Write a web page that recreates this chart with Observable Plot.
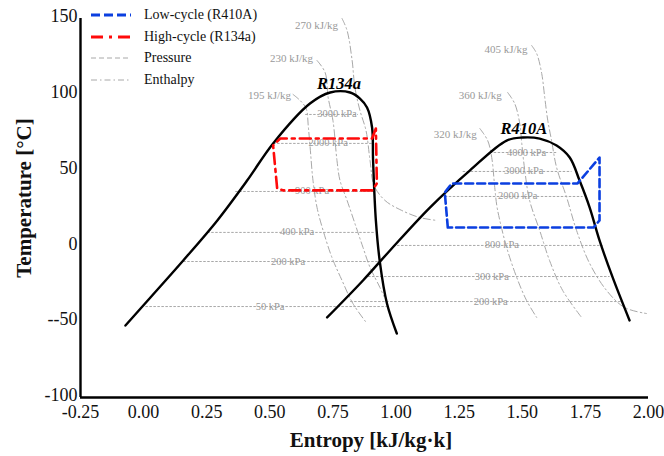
<!DOCTYPE html>
<html><head><meta charset="utf-8">
<script src="https://cdn.jsdelivr.net/npm/d3@7"></script>
<script src="https://cdn.jsdelivr.net/npm/@observablehq/plot@0.6"></script>
<style>
body{margin:0;background:#fff;}
#wrap{position:relative;width:664px;height:456px;font-family:"Liberation Serif","Times New Roman",serif;}
#chart svg, #chart svg text{font-family:"Liberation Serif","Times New Roman",serif !important;}
#legend{position:absolute;left:90px;top:4px;font-size:14px;color:#111;}
.row{display:flex;align-items:center;height:21.7px;}
.row svg{margin-right:12px;}
.atitle{position:absolute;white-space:nowrap;font-weight:bold;color:#111;line-height:1;}
#xtitle{left:371px;top:440px;font-size:21px;transform:translate(-50%,-50%);}
#ytitle{left:24px;top:198px;font-size:21px;transform:translate(-50%,-50%) rotate(-90deg);}
</style></head><body>
<div id="wrap"><div id="chart"></div><div id="legend"></div>
<div id="xtitle" class="atitle"></div><div id="ytitle" class="atitle"></div></div>
<script>
// Axis titles
const xTitle = "Entropy [kJ/kg·k]";
const yTitle = "Temperature [°C]";

// Saturation domes
const r134aDomeS = [-0.072, 0.027, 0.157, 0.292, 0.410, 0.513, 0.659, 0.739, 0.818, 0.857, 0.885, 0.905, 0.909, 0.920, 0.936, 0.964, 1.003];
const r134aDomeT = [-52.5, -34.0, -9.6, 16.8, 43.1, 67.6, 93.9, 101.2, 101.2, 97.2, 91.3, 78.1, 56.3, 16.8, -10.9, -38.0, -57.8];
const r410aDomeS = [0.727, 0.869, 0.976, 1.134, 1.292, 1.438, 1.502, 1.569, 1.636, 1.688, 1.727, 1.767, 1.806, 1.858, 1.925];
const r410aDomeT = [-47.2, -22.8, -3.0, 25.3, 49.7, 69.5, 71.5, 70.8, 66.2, 58.3, 43.1, 25.3, 3.6, -20.8, -49.2];

// Cycles
const highCycleS = [0.920, 0.905, 0.541, 0.513, 0.529, 0.553, 0.905, 0.924, 0.920];
const highCycleT = [77.4, 70.8, 70.8, 66.2, 37.9, 36.6, 36.6, 41.2, 77.4];
const lowCycleS = [1.205, 1.193, 1.221, 1.719, 1.806, 1.806, 1.782, 1.205];
const lowCycleT = [12.1, 35.2, 41.2, 41.2, 58.3, 16.8, 12.1, 12.1];

// Isobars
const pressureLabels = ["3000 kPa", "2000 kPa", "900 kPa", "400 kPa", "200 kPa", "50 kPa",
                        "4000 kPa", "3000 kPa", "2000 kPa", "800 kPa", "300 kPa", "200 kPa"];
const pressureT =      [86.7, 67.6, 35.9, 8.9, -10.3, -40.0, 61.6, 49.1, 32.6, 0.3, -20.2, -36.7];
const pressureS0 =     [0.640, 0.513, 0.363, 0.252, 0.157, 0.007, 1.371, 1.264, 1.193, 0.988, 0.889, 0.818];
const pressureS1 =     [0.849, 0.905, 0.916, 0.916, 0.936, 0.964, 1.636, 1.695, 1.739, 1.818, 1.846, 1.897];
const pressureLabelS = [0.766, 0.731, 0.667, 0.608, 0.572, 0.501, 1.517, 1.506, 1.482, 1.419, 1.379, 1.375];

// Isenthalps
const enthalpyLabels = ["195 kJ/kg", "230 kJ/kg", "270 kJ/kg", "320 kJ/kg", "360 kJ/kg", "405 kJ/kg"];
const enthalpyLabelS = [0.584, 0.671, 0.770, 1.320, 1.419, 1.521];
const enthalpyLabelT = [99.2, 123.6, 145.4, 73.5, 99.2, 129.6];
const h195S = [0.592, 0.620, 0.644, 0.652, 0.659, 0.671, 0.687, 0.711, 0.746, 0.786, 0.829, 0.885];
const h195T = [99.9, 95.9, 90.6, 79.4, 66.2, 43.1, 25.3, 10.2, -7.6, -22.8, -38.0, -51.2];
const h230S = [0.687, 0.719, 0.731, 0.750, 0.766, 0.778, 0.806, 0.837, 0.869, 0.897, 0.936, 0.952];
const h230T = [122.3, 114.4, 97.9, 82.7, 56.3, 43.1, 30.0, 14.8, -1.0, -14.2, -27.4, -33.4];
const h270S = [0.786, 0.806, 0.826, 0.837, 0.857, 0.881, 0.897, 0.913, 0.956, 1.015, 1.094, 1.162];
const h270T = [150.0, 142.1, 122.3, 104.5, 89.3, 76.1, 56.3, 39.8, 30.0, 24.0, 18.7, 16.8];
const h320S = [1.332, 1.363, 1.379, 1.391, 1.399, 1.411, 1.438, 1.478, 1.517, 1.557];
const h320T = [77.4, 69.5, 58.3, 38.5, 26.7, 16.8, -1.0, -20.8, -36.0, -47.2];
const h360S = [1.442, 1.470, 1.490, 1.498, 1.510, 1.529, 1.569, 1.608, 1.660, 1.735];
const h360T = [101.2, 93.9, 80.7, 67.5, 49.7, 30.0, 10.2, -9.6, -29.4, -47.2];
const h405S = [1.537, 1.557, 1.577, 1.589, 1.601, 1.616, 1.636, 1.676, 1.715, 1.767, 1.834, 1.905, 1.992];
const h405T = [132.2, 126.9, 113.7, 97.9, 82.7, 69.5, 51.7, 31.9, 10.2, -11.6, -29.4, -40.6, -44.6];

const refrigerantNames = ["R134a", "R410A"];
const refrigerantS = [0.774, 1.506];
const refrigerantT = [107.1, 77.4];

const xTicks = [-0.25, 0, 0.25, 0.5, 0.75, 1.0, 1.25, 1.5, 1.75, 2.0];
const yTicks = [-100, -50, 0, 50, 100, 150];

const pts = (S, T, id) => S.map((s, i) => ({s, t: T[i], id}));
const domes = [...pts(r134aDomeS, r134aDomeT, "a"), ...pts(r410aDomeS, r410aDomeT, "b")];
const enth = [pts(h195S,h195T,"195"), pts(h230S,h230T,"230"), pts(h270S,h270T,"270"),
              pts(h320S,h320T,"320"), pts(h360S,h360T,"360"), pts(h405S,h405T,"405")].flat();
const isobars = pressureLabels.map((l, i) => ({l, t: pressureT[i], s0: pressureS0[i], s1: pressureS1[i], ls: pressureLabelS[i]}));
const enthLab = enthalpyLabels.map((l, i) => ({l, s: enthalpyLabelS[i], t: enthalpyLabelT[i]}));
const refLab = refrigerantNames.map((l, i) => ({l, s: refrigerantS[i], t: refrigerantT[i]}));

const BLUE = "#0b3fe0", RED = "#ff0a0a", GRAY = "#a8a8a8", LGRAY = "#999";

const chart = Plot.plot({
  width: 664, height: 456,
  marginLeft: 80, marginRight: 16, marginTop: 18, marginBottom: 59,
  style: "font-family: 'Liberation Serif', serif; background: #fff;",
  x: {domain: [-0.25, 2.0]},
  y: {domain: [-100, 150]},
  marks: [
    Plot.link(isobars, {x1: "s0", x2: "s1", y1: "t", y2: "t", stroke: GRAY, strokeWidth: 1, strokeDasharray: "2.5,1.5"}),
    Plot.text(isobars, {x: "ls", y: "t", text: "l", fill: LGRAY, fontSize: 10.5, lineAnchor: "bottom", dy: 3}),
    Plot.line(enth, {x: "s", y: "t", z: "id", curve: "catmull-rom", stroke: GRAY, strokeWidth: 1, strokeDasharray: "7,3,1.5,3"}),
    Plot.text(enthLab, {x: "s", y: "t", text: "l", fill: LGRAY, fontSize: 11, textAnchor: "end"}),
    Plot.line(domes, {x: "s", y: "t", z: "id", curve: "catmull-rom", stroke: "#000", strokeWidth: 2.4}),
    Plot.line(pts(highCycleS, highCycleT, "h"), {x: "s", y: "t", stroke: RED, strokeWidth: 2.6, strokeDasharray: "11,5,3,5"}),
    Plot.line(pts(lowCycleS, lowCycleT, "l"), {x: "s", y: "t", stroke: BLUE, strokeWidth: 2.6, strokeDasharray: "8,4"}),
    Plot.text(refLab, {x: "s", y: "t", text: "l", fontSize: 16.5, fontWeight: "bold", fontStyle: "italic", fill: "#000"}),
    Plot.ruleX([-0.25], {stroke: "#000", strokeWidth: 2.4}),
    Plot.ruleY([-100], {stroke: "#000", strokeWidth: 2.4}),
    Plot.axisX({ticks: xTicks, tickSize: 0, tickPadding: 8, tickFormat: d => d.toFixed(2), fontSize: 18, label: null, fill: "#111"}),
    Plot.axisY({ticks: yTicks, tickSize: 0, tickPadding: 3, dy: -2, tickFormat: d => d === -50 ? "--50" : String(d), fontSize: 18, label: null, fill: "#111"})
  ]
});
document.getElementById("chart").appendChild(chart);
document.getElementById("xtitle").textContent = xTitle;
document.getElementById("ytitle").textContent = yTitle;

// Legend
const legendItems = [
  {label: "Low-cycle (R410A)", color: BLUE, width: 3, dash: "9,4"},
  {label: "High-cycle (R134a)", color: RED, width: 3, dash: "12,6,3,6"},
  {label: "Pressure", color: GRAY, width: 1, dash: "5,3"},
  {label: "Enthalpy", color: GRAY, width: 1, dash: "6,3,1.5,3"}
];
const leg = d3.select("#legend");
legendItems.forEach(it => {
  const row = leg.append("div").attr("class", "row");
  const svg = row.append("svg").attr("width", 42).attr("height", 10);
  svg.append("line").attr("x1", 1).attr("x2", 41).attr("y1", 5).attr("y2", 5)
    .attr("stroke", it.color).attr("stroke-width", it.width).attr("stroke-dasharray", it.dash);
  row.append("span").text(it.label);
});
</script></body></html>
